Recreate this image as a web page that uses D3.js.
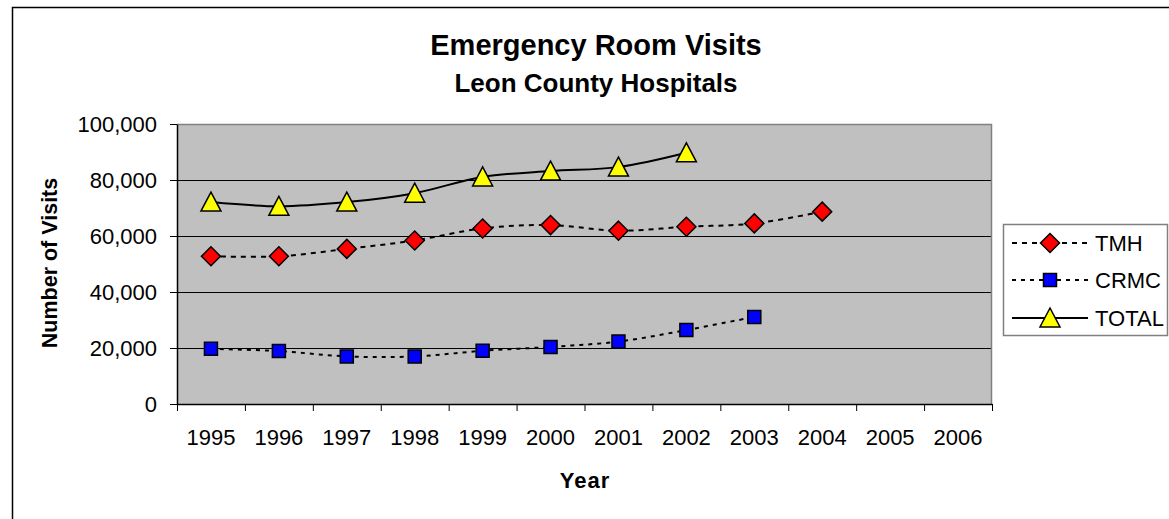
<!DOCTYPE html>
<html>
<head>
<meta charset="utf-8">
<script src="https://d3js.org/d3.v7.min.js"></script>
<style>
  body { margin: 0; background: #fff; }
  text { font-family: "Liberation Sans", Arial, sans-serif; fill: #000; }
</style>
</head>
<body>
<div id="chart"></div>
<script>
// data
var years = ["1995", "1996", "1997", "1998", "1999", "2000", "2001", "2002", "2003", "2004", "2005", "2006"];
var tmh   = [52750, 52750, 55400, 58400, 62700, 63900, 61900, 63300, 64500, 68700, null, null];
var crmc  = [19700, 18900, 17000, 17000, 19000, 20400, 22300, 26400, 31100, null, null, null];
var total = [72100, 70600, 72100, 75300, 81100, 83200, 84600, 89700, null, null, null, null];
var yTicks = [0, 20000, 40000, 60000, 80000, 100000];

var W = 1169, H = 519;
var plot = {left: 177, top: 124, right: 992, bottom: 404};

var svg = d3.select("#chart").append("svg")
    .attr("width", W)
    .attr("height", H);

// outer chart border
svg.append("rect")
    .attr("x", 12.5).attr("y", 7.5)
    .attr("width", W).attr("height", H)
    .attr("fill", "#fff")
    .attr("stroke", "#000")
    .attr("stroke-width", 1.5);

var x = d3.scaleBand()
    .domain(years)
    .range([plot.left, plot.right]);

var xEdge = d3.scaleLinear()
    .domain([0, years.length])
    .range([plot.left, plot.right]);

var y = d3.scaleLinear()
    .domain([0, 100000])
    .range([plot.bottom, plot.top]);

// plot background
svg.append("rect")
    .attr("x", plot.left).attr("y", plot.top)
    .attr("width", plot.right - plot.left)
    .attr("height", plot.bottom - plot.top)
    .attr("fill", "#c0c0c0");

// grid lines
svg.append("g").selectAll("line")
    .data(yTicks.slice(1, -1))
    .enter().append("line")
    .attr("x1", plot.left).attr("x2", plot.right)
    .attr("y1", function(d) { return Math.round(y(d)) + 0.5; })
    .attr("y2", function(d) { return Math.round(y(d)) + 0.5; })
    .attr("stroke", "#000")
    .attr("stroke-width", 1);

// grey border top / right
svg.append("path")
    .attr("d", "M" + plot.left + "," + (plot.top + 0.5) + "H" + (plot.right - 0.5) + "V" + plot.bottom)
    .attr("fill", "none")
    .attr("stroke", "#808080")
    .attr("stroke-width", 1.5);

// y axis
var yAxis = svg.append("g")
    .attr("transform", "translate(" + plot.left + ",0)")
    .call(d3.axisLeft(y).tickValues(yTicks).tickFormat(d3.format(",")).tickSize(7).tickSizeOuter(0).tickPadding(13));
yAxis.selectAll("text").style("font-size", "22px");
yAxis.select(".domain").attr("stroke-width", 1.5);

// x axis: tick marks on the category edges
svg.append("g")
    .attr("transform", "translate(0," + plot.bottom + ")")
    .call(d3.axisBottom(xEdge).tickValues(d3.range(years.length + 1)).tickFormat("").tickSize(7).tickSizeOuter(0))
    .select(".domain").attr("stroke-width", 1.5);

// x axis labels
var xAxis = svg.append("g")
    .attr("transform", "translate(0," + plot.bottom + ")")
    .call(d3.axisBottom(x).tickSize(0).tickPadding(25));
xAxis.select(".domain").remove();
xAxis.selectAll("text").style("font-size", "22px");

// titles
svg.append("text")
    .attr("x", 596).attr("y", 55)
    .attr("text-anchor", "middle")
    .style("font-size", "29px").style("font-weight", "bold")
    .text("Emergency Room Visits");
svg.append("text")
    .attr("x", 596).attr("y", 92)
    .attr("text-anchor", "middle")
    .style("font-size", "26px").style("font-weight", "bold")
    .text("Leon County Hospitals");
svg.append("text")
    .attr("transform", "translate(57,263) rotate(-90)")
    .attr("text-anchor", "middle")
    .style("font-size", "21.5px").style("font-weight", "bold")
    .text("Number of Visits");
svg.append("text")
    .attr("x", 585).attr("y", 488)
    .attr("text-anchor", "middle")
    .style("font-size", "22px").style("font-weight", "bold")
    .style("letter-spacing", "1px")
    .text("Year");

// marker shapes
function markerPath(type) {
    if (type == "diamond") return "M0,-9.5L9.5,0L0,9.5L-9.5,0Z";
    if (type == "square") return "M-6.5,-6.5H6.5V6.5H-6.5Z";
    return "M0,-10L10,9H-10Z";
}

var series = [
    {name: "TMH", values: tmh, fill: "#ff0000", shape: "diamond", dash: "5,5"},
    {name: "CRMC", values: crmc, fill: "#0000ff", shape: "square", dash: "4,5"},
    {name: "TOTAL", values: total, fill: "#ffff00", shape: "triangle", dash: null}
];

var line = d3.line()
    .defined(function(d) { return d != null; })
    .x(function(d, i) { return x(years[i]) + x.bandwidth() / 2; })
    .y(function(d) { return y(d); })
    .curve(d3.curveCatmullRom.alpha(0.5));

series.forEach(function(s) {
    svg.append("path")
        .datum(s.values)
        .attr("d", line)
        .attr("fill", "none")
        .attr("stroke", "#000")
        .attr("stroke-width", 2)
        .attr("stroke-dasharray", s.dash);
});

series.forEach(function(s) {
    svg.append("g").selectAll("path")
        .data(s.values.map(function(v, i) { return {v: v, year: years[i]}; })
            .filter(function(d) { return d.v != null; }))
        .enter().append("path")
        .attr("transform", function(d) {
            return "translate(" + (x(d.year) + x.bandwidth() / 2) + "," + y(d.v) + ")";
        })
        .attr("d", markerPath(s.shape))
        .attr("fill", s.fill)
        .attr("stroke", "#000")
        .attr("stroke-width", 1.5);
});

// legend
var legend = svg.append("g");
legend.append("rect")
    .attr("x", 1003.5).attr("y", 224.5)
    .attr("width", 164).attr("height", 111)
    .attr("fill", "#fff")
    .attr("stroke", "#808080")
    .attr("stroke-width", 1.5);

var legendY = [243, 280, 318];
series.forEach(function(s, i) {
    var g = legend.append("g").attr("transform", "translate(0," + legendY[i] + ")");
    g.append("line")
        .attr("x1", 1012).attr("x2", 1088)
        .attr("stroke", "#000")
        .attr("stroke-width", 2)
        .attr("stroke-dasharray", s.dash);
    g.append("path")
        .attr("transform", "translate(1050,0)")
        .attr("d", markerPath(s.shape))
        .attr("fill", s.fill)
        .attr("stroke", "#000")
        .attr("stroke-width", 1.5);
    g.append("text")
        .attr("x", 1095).attr("y", 8)
        .style("font-size", "22px")
        .text(s.name);
});
</script>
</body>
</html>
